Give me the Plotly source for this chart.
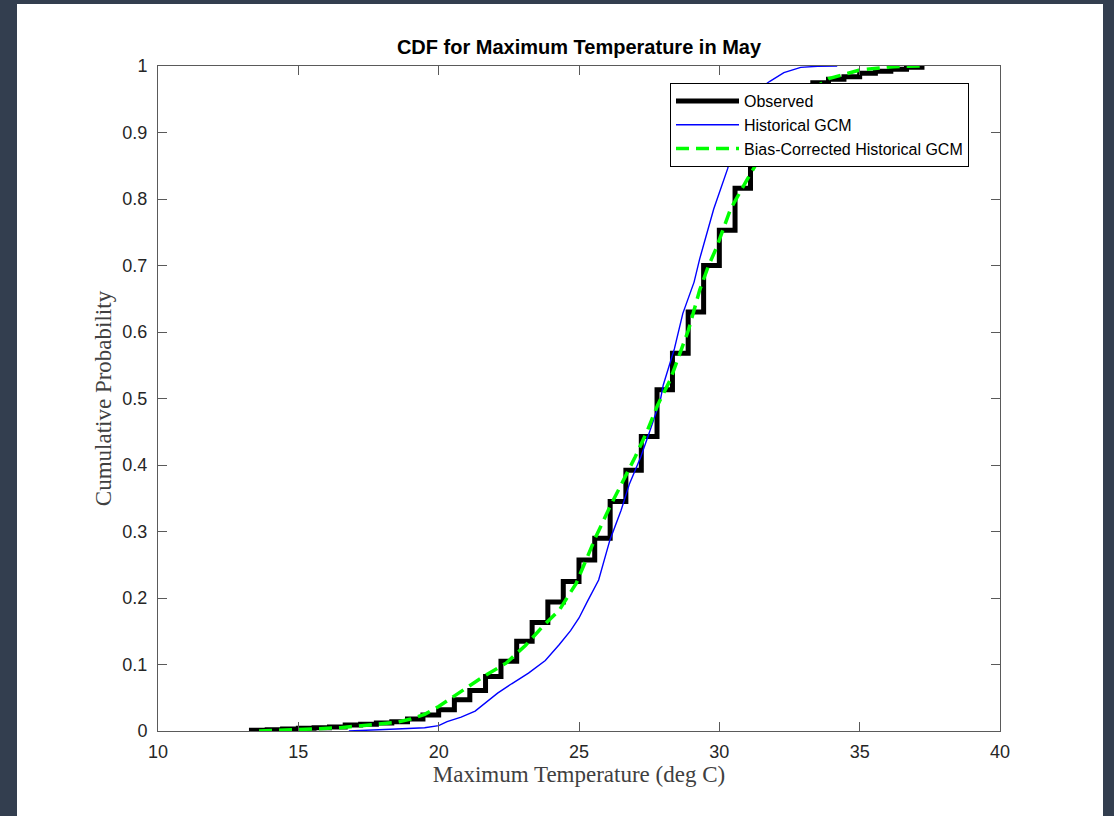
import plotly.graph_objects as go

# Observed ECDF (step): temperature (deg C) and cumulative probability after each step
obs_temp = [13.33, 13.33, 13.89, 14.44, 15.00, 15.56, 16.11, 16.67, 17.22, 17.78, 18.33,
            18.89, 19.44, 20.00, 20.56, 21.11, 21.67, 22.22, 22.78, 23.33, 23.89,
            24.44, 25.00, 25.56, 26.11, 26.67, 27.22, 27.78, 28.33, 28.89, 29.44,
            30.00, 30.56, 31.11, 31.67, 32.22, 32.78, 33.33, 33.89, 34.44, 35.00,
            35.56, 36.11, 36.67, 37.22]
obs_prob = [0.0, 0.001, 0.002, 0.003, 0.004, 0.005, 0.006, 0.009, 0.010, 0.012, 0.014,
            0.018, 0.024, 0.032, 0.047, 0.061, 0.082, 0.105, 0.135, 0.163, 0.194,
            0.225, 0.257, 0.290, 0.345, 0.392, 0.443, 0.513, 0.568, 0.630, 0.700,
            0.753, 0.816, 0.859, 0.895, 0.925, 0.952, 0.975, 0.980, 0.984, 0.989,
            0.992, 0.995, 0.998, 1.0]

# Historical GCM ECDF (smooth-looking)
gcm_temp = [16.8, 17.5, 18.5, 19.5, 20.0, 20.3, 20.8, 21.3, 21.6, 22.1, 22.6, 23.2,
            23.8, 24.3, 24.7, 25.0, 25.3, 25.7, 26.1, 26.5, 26.8, 27.2, 27.5, 27.9,
            28.0, 28.4, 28.7, 29.1, 29.3, 29.8, 30.3, 30.5, 31.0, 31.4, 31.8, 32.3,
            32.9, 33.5, 34.2]
gcm_prob = [0.0, 0.001, 0.003, 0.005, 0.008, 0.014, 0.021, 0.030, 0.040, 0.057, 0.071,
            0.087, 0.106, 0.130, 0.151, 0.170, 0.195, 0.227, 0.287, 0.332, 0.372,
            0.412, 0.448, 0.498, 0.520, 0.575, 0.628, 0.675, 0.710, 0.785, 0.846,
            0.880, 0.945, 0.965, 0.977, 0.990, 0.998, 0.9995, 1.0]

# Bias-corrected Historical GCM ECDF
bc_temp = [13.6, 14.5, 15.5, 16.5, 17.0, 18.0, 18.5, 19.0, 19.5, 20.0, 20.6, 21.0,
           21.6, 22.4, 23.1, 23.7, 24.3, 24.9, 25.2, 25.6, 26.1, 26.5, 27.0, 27.4,
           27.8, 28.25, 28.65, 28.9, 29.3, 29.6, 29.9, 30.4, 31.0, 31.5, 32.0, 32.5,
           33.0, 33.5, 33.9, 34.5, 35.0, 36.2, 37.25]
bc_prob = [0.0, 0.002, 0.003, 0.005, 0.007, 0.010, 0.013, 0.018, 0.025, 0.037, 0.054,
           0.066, 0.082, 0.102, 0.129, 0.157, 0.182, 0.222, 0.252, 0.292, 0.337,
           0.370, 0.412, 0.448, 0.490, 0.528, 0.573, 0.603, 0.663, 0.698, 0.727,
           0.785, 0.830, 0.866, 0.895, 0.925, 0.952, 0.970, 0.981, 0.988, 0.994,
           0.999, 1.0]

x_ticks = [10, 15, 20, 25, 30, 35, 40]
y_ticks = [0, 0.1, 0.2, 0.3, 0.4, 0.5, 0.6, 0.7, 0.8, 0.9, 1]
y_ticklabels = ["0", "0.1", "0.2", "0.3", "0.4", "0.5", "0.6", "0.7", "0.8", "0.9", "1"]

fig = go.Figure()
fig.add_trace(go.Scatter(x=obs_temp, y=obs_prob, mode="lines", name="Observed",
                         line=dict(color="black", width=5, shape="hv")))
fig.add_trace(go.Scatter(x=gcm_temp, y=gcm_prob, mode="lines", name="Historical GCM",
                         line=dict(color="#0000ff", width=1.4)))
fig.add_trace(go.Scatter(x=bc_temp, y=bc_prob, mode="lines", name="Bias-Corrected Historical GCM",
                         line=dict(color="#00ff00", width=3.5, dash="13px,7px")))

L, R, T, B = 158, 114, 66, 85
W, H = 1114, 816
pw, ph = W - L - R, H - T - B

def px2x(px):
    return (px - L) / pw

def py2y(py):
    return (H - B - py) / ph

fig.add_shape(type="rect", xref="paper", yref="paper",
              x0=px2x(17), x1=px2x(1103), y0=py2y(816), y1=py2y(4),
              fillcolor="white", line=dict(width=0), layer="below")

axis_common = dict(showline=True, linecolor="#5a5a5a", linewidth=1, mirror="ticks",
                   ticks="inside", ticklen=9, tickcolor="#5a5a5a", showgrid=False,
                   zeroline=False, tickfont=dict(family="Liberation Sans, Arial", size=18, color="#262626"))

fig.update_layout(
    width=W, height=H,
    margin=dict(l=L, r=R, t=T, b=B),
    paper_bgcolor="#333e4f",
    plot_bgcolor="white",
    title=dict(text="<b>CDF for Maximum Temperature in May</b>", x=579 / W,
               xanchor="center", y=1 - 47 / H, yanchor="middle",
               font=dict(family="Liberation Sans, Arial", size=20, color="black")),
    xaxis=dict(range=[10, 40], tickvals=x_ticks, ticklabelstandoff=4,
               title=dict(text="Maximum Temperature (deg C)", standoff=4,
                          font=dict(family="Liberation Serif, Times New Roman", size=23, color="#404040")),
               **axis_common),
    yaxis=dict(range=[0, 1], tickvals=y_ticks, ticktext=y_ticklabels, ticklabelstandoff=6,
               title=dict(text="Cumulative Probability", standoff=4,
                          font=dict(family="Liberation Serif, Times New Roman", size=23, color="#404040")),
               **axis_common),
    legend=dict(x=px2x(670), y=py2y(83), xanchor="left", yanchor="top",
                bgcolor="white", bordercolor="black", borderwidth=1,
                font=dict(family="Liberation Sans, Arial", size=16, color="black"),
                itemwidth=63, tracegroupgap=0),
    showlegend=True,
)

fig.write_html("out.html")
